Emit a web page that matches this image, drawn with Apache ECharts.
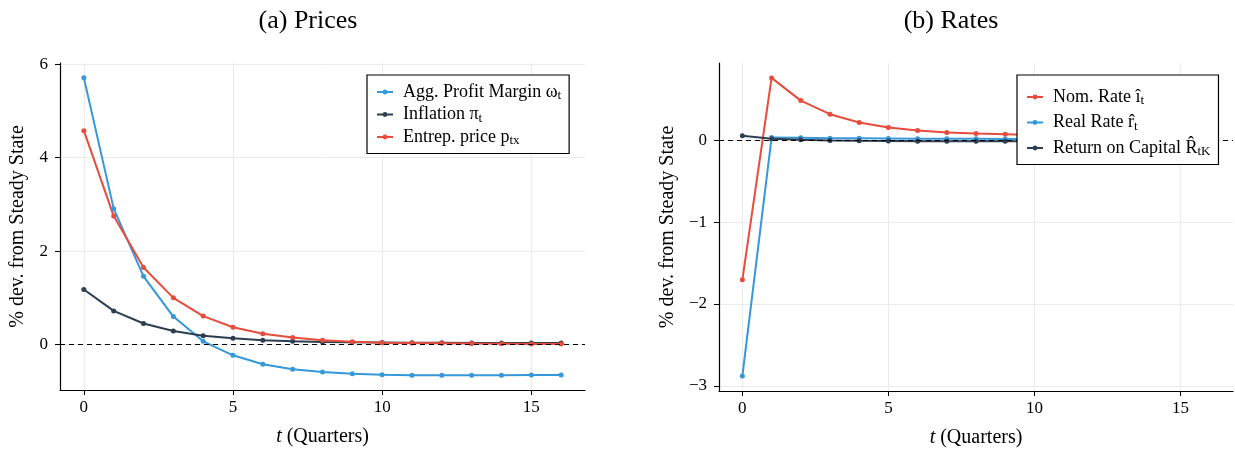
<!DOCTYPE html>
<html><head><meta charset="utf-8">
<script src="https://cdn.jsdelivr.net/npm/echarts@6/dist/echarts.min.js"></script>
<style>html,body{margin:0;padding:0;background:#fff}#c{width:1235px;height:453px}</style>
</head><body><div id="c"></div>
<script>
const t = [0,1,2,3,4,5,6,7,8,9,10,11,12,13,14,15,16];
// (a) Prices
const profitMargin = [5.71,2.91,1.46,0.60,0.07,-0.23,-0.42,-0.53,-0.59,-0.625,-0.645,-0.655,-0.655,-0.655,-0.655,-0.65,-0.65];
const inflation = [1.18,0.72,0.45,0.29,0.19,0.135,0.09,0.07,0.055,0.05,0.045,0.04,0.04,0.035,0.035,0.035,0.035];
const entrepPrice = [4.58,2.75,1.65,1.00,0.61,0.37,0.23,0.15,0.09,0.06,0.04,0.035,0.03,0.02,0.015,0.01,0.01];
// (b) Rates
const nomRate = [-1.705,0.76,0.483,0.317,0.215,0.154,0.118,0.093,0.081,0.073,0.063,0.055,0.048,0.042,0.037,0.033,0.03];
const realRate = [-2.88,0.032,0.028,0.024,0.022,0.02,0.018,0.017,0.016,0.015,0.014,0.013,0.012,0.012,0.011,0.011,0.01];
const retCapital = [0.053,0.016,0.004,-0.004,-0.008,-0.01,-0.012,-0.013,-0.013,-0.013,-0.013,-0.013,-0.012,-0.012,-0.012,-0.011,-0.011];
const xTicks = [0,5,10,15];
const yTicksA = [0,2,4,6];
const yTicksB = [-3,-2,-1,0];
const namesA = ['Agg. Profit Margin','Inflation','Entrep. price'];
const namesB = ['Nom. Rate','Real Rate','Return on Capital'];
const legendLabels = {
  'Agg. Profit Margin': 'Agg. Profit Margin ω{sub|t}',
  'Inflation': 'Inflation π{sub|t}',
  'Entrep. price': 'Entrep. price p{sub|tx}',
  'Nom. Rate': 'Nom. Rate i\u0302{sub|t}',
  'Real Rate': 'Real Rate r\u0302{sub|t}',
  'Return on Capital': 'Return on Capital R\u0302{sub|tK}'
};
const BLUE='#3498db', DARK='#2c3e50', RED='#e74c3c';
const FONT='Liberation Serif';
const pairs = v => t.map((x,i)=>[x,v[i]]);

const chart = echarts.init(document.getElementById('c'), null, {renderer:'canvas'});
function xAxis(gi){
  return {type:'value', gridIndex:gi, min:-0.8, max:16.8,
    name:'{it|t} (Quarters)', nameLocation:'middle', nameGap:37,
    nameTextStyle:{fontFamily:FONT, fontSize:20, color:'#000', rich:{it:{fontStyle:'italic', fontFamily:FONT, fontSize:20, color:'#000'}}},
    axisLine:{show:true, onZero:false, lineStyle:{color:'#000', width:1.2}},
    axisTick:{show:true, customValues:xTicks, length:5, lineStyle:{color:'#000'}},
    axisLabel:{customValues:xTicks, fontFamily:FONT, fontSize:17, color:'#000', margin:9},
    splitLine:{show:true, lineStyle:{color:'#ebebeb', width:1}}
  };
}
function yAxis(gi, mn, mx, ticks){
  return {type:'value', gridIndex:gi, min:mn, max:mx,
    name:'% dev. from Steady State', nameLocation:'middle', nameGap:gi===0?32:41,
    nameTextStyle:{fontFamily:FONT, fontSize:20, color:'#000'},
    axisLine:{show:true, onZero:false, lineStyle:{color:'#000', width:1.2}},
    axisTick:{show:true, customValues:ticks, length:5, lineStyle:{color:'#000'}},
    axisLabel:{customValues:ticks, fontFamily:FONT, fontSize:17, color:'#000', margin:12,
      formatter:v=>String(v).replace('-','\u2212')},
    splitLine:{show:true, lineStyle:{color:'#ebebeb', width:1}}
  };
}
function ser(name, data, color, xi, zeroLine){
  const s = {name, type:'line', xAxisIndex:xi, yAxisIndex:xi, data:pairs(data), z:2,
    symbol:'circle', symbolSize:5, showAllSymbol:true,
    lineStyle:{color, width:2}, itemStyle:{color}, emphasis:{disabled:true}, animation:false};
  if(zeroLine){
    s.markLine = {silent:true, symbol:'none', label:{show:false}, animation:false,
      lineStyle:{color:'#000', type:[5,4], width:1.2}, data:[{yAxis:0}]};
  }
  return s;
}
const richLegend = {
  sub:{fontFamily:FONT, fontSize:13, color:'#000', padding:[8,0,0,0]}
};
function legend(names, left, top, gap, pad){
  return {data:names, orient:'vertical', left, top, itemWidth:16, itemHeight:6, itemGap:gap,
    z:50, zlevel:1,
    backgroundColor:'#fff', borderColor:'#000', borderWidth:1.2, borderRadius:0, padding:pad,
    formatter:n=>legendLabels[n],
    textStyle:{fontFamily:FONT, fontSize:18, color:'#000', padding:[0,0,0,5], rich:richLegend}, selectedMode:false};
}
chart.setOption({
  animation:false,
  backgroundColor:'#fff',
  title:[
    {text:'(a) Prices', left:303, top:3, textAlign:'center', textStyle:{fontFamily:FONT, fontSize:26, fontWeight:'normal', color:'#000'}},
    {text:'(b) Rates', left:946, top:3, textAlign:'center', textStyle:{fontFamily:FONT, fontSize:26, fontWeight:'normal', color:'#000'}}
  ],
  grid:[
    {left:60, right:650, top:63, bottom:63},
    {left:719, right:2, top:63, bottom:62}
  ],
  xAxis:[xAxis(0), xAxis(1)],
  yAxis:[yAxis(0,-0.973,6.028,yTicksA), yAxis(1,-3.062,0.942,yTicksB)],
  legend:[legend(namesA, 367, 75, 3, [8,8,6,9]), legend(namesB, 1017, 75, 6, [13,8,6,9])],
  series:[
    ser(namesA[0], profitMargin, BLUE, 0, true),
    ser(namesA[1], inflation, DARK, 0, false),
    ser(namesA[2], entrepPrice, RED, 0, false),
    ser(namesB[0], nomRate, RED, 1, true),
    ser(namesB[1], realRate, BLUE, 1, false),
    ser(namesB[2], retCapital, DARK, 1, false)
  ]
});
</script></body></html>
